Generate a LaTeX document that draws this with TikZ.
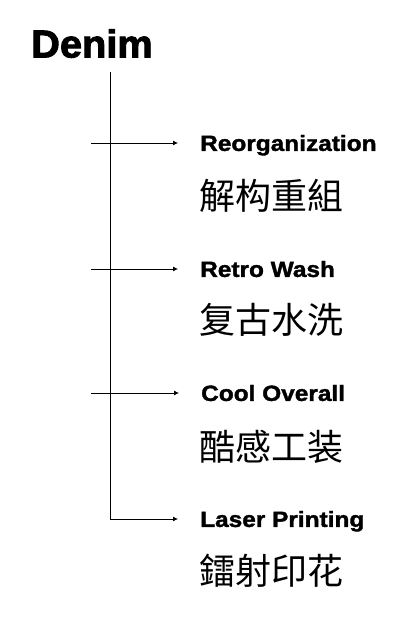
\documentclass[tikz,border=0pt]{standalone}
\usepackage{fontspec}
\usetikzlibrary{arrows.meta}
\newfontfamily\labfont[FakeStretch=1.11,FakeBold=1.6]{Liberation Sans}
\newfontfamily\titlefont[FakeStretch=1.02,FakeBold=2.2]{Liberation Sans}
\newfontfamily\cjkfont{Noto Sans CJK SC}
\begin{document}
\begin{tikzpicture}[x=1pt,y=-1pt,
  lab/.style={anchor=west,inner sep=0pt,font=\labfont\bfseries\fontsize{22}{22}\selectfont,text height=15.8pt,text depth=0pt},
  zh/.style={anchor=west,inner sep=0pt,font=\cjkfont\fontsize{36}{36}\selectfont},
  trunk/.style={line width=0.8pt},
  arr/.style={line width=0.8pt,-{Latex[length=5pt,width=5pt]},shorten >=22pt}]
\useasboundingbox (0,0) rectangle (413,620);
\fill[white] (0,0) rectangle (413,620);
\node[anchor=base west,inner sep=0pt,font=\titlefont\bfseries\fontsize{39}{39}\selectfont] (title) at (31,57.5) {Denim};
\coordinate (top) at (110,72);
\coordinate (bot) at (110,519);
\coordinate (s1) at (91,143);
\coordinate (s2) at (91,269);
\coordinate (s3) at (91,393);
\node[lab] (l1) at (200,143) {Reorganization};
\node[lab] (l2) at (200,269) {Retro Wash};
\node[lab] (l3) at (201,393) {Cool Overall};
\node[lab] (l4) at (200,519) {Laser Printing};
\node[zh] (c1) at (199,196) {解构重組};
\node[zh] (c2) at (199,320) {复古水洗};
\node[zh] (c3) at (199,447) {酷感工装};
\node[zh] (c4) at (199,571) {鐳射印花};
\draw[trunk] (top) -- (bot);
\draw[arr] (s1) -- (l1.west);
\draw[arr] (s2) -- (l2.west);
\draw[arr] (s3) -- (l3.west);
\draw[arr] (bot) -- (l4.west);
\end{tikzpicture}
\end{document}
